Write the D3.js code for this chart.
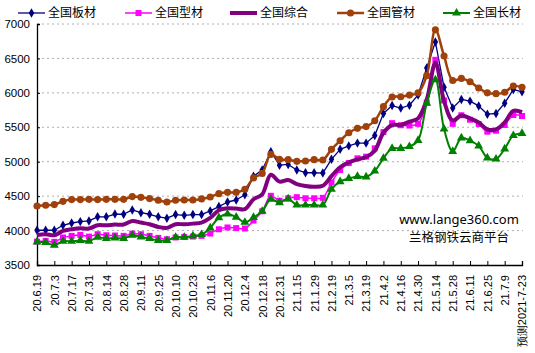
<!DOCTYPE html>
<html><head><meta charset="utf-8">
<script src="https://cdn.jsdelivr.net/npm/d3@7"></script>
<style>
html,body{margin:0;padding:0;background:#fff;}
svg{display:block;font-family:"Noto Sans","Noto Sans CJK SC",sans-serif;}
</style></head>
<body>
<svg id="chart" width="535" height="353"></svg>
<script>
const dateLabels = ["20.6.19","20.7.3","20.7.17","20.7.31","20.8.14","20.8.28","20.9.11","20.9.25","20.10.10","20.10.23","20.11.6","20.11.20","20.12.4","20.12.18","20.12.31","21.1.15","21.1.29","21.2.19","21.3.5","21.3.19","21.4.2","21.4.16","21.4.30","21.5.14","21.5.28","21.6.11","21.6.25","21.7.9","预测2021-7-23"];
const yTicks = [3500,4000,4500,5000,5500,6000,6500,7000];

const plate = [4005,4005,4005,4077,4110,4130,4140,4200,4200,4240,4237,4300,4260,4237,4200,4180,4232,4222,4232,4232,4285,4348,4415,4444,4520,4790,4880,5145,4950,4960,4880,4840,4840,4835,5035,5180,5230,5270,5270,5380,5700,5815,5780,5820,5970,6360,6740,6080,5780,5905,5880,5810,5690,5700,5850,6050,6016];
const section = [3840,3850,3836,3900,3923,3937,3913,3947,3932,3928,3923,3957,3947,3923,3894,3874,3900,3908,3913,3923,3957,4019,4045,4036,4030,4145,4280,4505,4434,4469,4485,4469,4469,4475,4700,4880,4980,5049,5073,5194,5430,5560,5530,5525,5550,5860,6480,5890,5550,5675,5610,5547,5436,5450,5533,5678,5664];
const composite = [3937,3947,3932,3995,4019,4034,4029,4077,4077,4087,4087,4140,4116,4092,4053,4039,4092,4092,4101,4116,4183,4295,4324,4320,4310,4454,4526,4810,4710,4734,4676,4647,4635,4650,4790,4920,4990,5034,5068,5160,5420,5533,5533,5581,5630,5900,6440,5880,5600,5670,5630,5570,5470,5470,5570,5740,5720];
const pipe = [4357,4367,4377,4425,4450,4450,4454,4450,4454,4454,4454,4493,4483,4464,4440,4415,4440,4444,4444,4460,4488,4536,4555,4555,4600,4765,4830,5106,5034,5030,5005,5010,5030,5025,5180,5305,5420,5485,5510,5595,5800,5940,5944,5968,6000,6250,6915,6535,6180,6210,6161,6070,6000,5988,6008,6099,6080];
const longp = [3836,3826,3787,3845,3845,3855,3845,3903,3884,3894,3884,3932,3908,3884,3855,3855,3903,3903,3923,3942,4039,4188,4240,4195,4120,4190,4280,4454,4405,4460,4371,4371,4371,4371,4600,4710,4758,4787,4780,4865,5050,5194,5194,5220,5310,5850,6190,5475,5150,5345,5305,5230,5055,5039,5187,5380,5410];

const seriesNames = ["全国板材","全国型材","全国综合","全国管材","全国长材"];
const seriesData = [plate, section, composite, pipe, longp];
const seriesColors = ["#000080","#FF00FF","#800080","#A0400A","#008000"];
const seriesWidths = [1.3,1.5,4,2.5,2];
const seriesMarkers = ["diamond","square",null,"circle","triangle"];
const seriesCurves = [d3.curveLinear, d3.curveCatmullRom, d3.curveCatmullRom, d3.curveCatmullRom, d3.curveCatmullRom];

const svg = d3.select("#chart");
const n = plate.length;
const x = d3.scaleLinear().domain([0, n-1]).range([37, 522]);
const y = d3.scaleLinear().domain([3500, 7000]).range([265, 24]);

// gridlines
svg.append("g").selectAll("line").data(yTicks.filter(t=>t>3500)).join("line")
  .attr("x1",37).attr("x2",523).attr("y1",d=>y(d)).attr("y2",d=>y(d))
  .attr("stroke","#b0b0b0").attr("stroke-width",1).attr("stroke-dasharray","2,3");

// y axis
const yAxis = d3.axisLeft(y).tickValues(yTicks).tickSize(-3).tickPadding(7).tickFormat(d3.format("d"));
const gy = svg.append("g").attr("transform","translate(37,0)").call(yAxis);
gy.select(".domain").attr("stroke","#000").attr("stroke-width",1.3);
gy.selectAll(".tick line").attr("stroke","#000");
gy.selectAll("text").attr("font-size",11.5).attr("fill","#000");

// x axis
const tickIdx = d3.range(0, n, 2);
const xAxis = d3.axisBottom(x).tickValues(tickIdx).tickSize(-4).tickFormat((d,i)=>dateLabels[i]);
const gx = svg.append("g").attr("transform","translate(0,265)").call(xAxis);
gx.select(".domain").attr("stroke","#000").attr("stroke-width",1.3);
gx.selectAll(".tick line").attr("stroke","#000");
gx.selectAll(".tick text")
  .attr("font-size",11).attr("fill","#000")
  .attr("text-anchor","end").attr("dy","0.35em")
  .attr("transform","translate(0,10) rotate(-90)")
  .attr("x",0).attr("y",0);

// series
const sym = {diamond:d3.symbolDiamond, square:d3.symbolSquare, circle:d3.symbolCircle, triangle:d3.symbolTriangle};
const symSize = {diamond:26, square:36, circle:40, triangle:34};
seriesData.forEach((data,k)=>{
  const line = d3.line().x((d,i)=>x(i)).y(d=>y(d)).curve(seriesCurves[k]);
  svg.append("path").datum(data).attr("d",line).attr("fill","none")
    .attr("stroke",seriesColors[k]).attr("stroke-width",seriesWidths[k]).attr("stroke-linejoin","round");
  if (seriesMarkers[k]) {
    svg.append("g").selectAll("path").data(data).join("path")
      .attr("d", d3.symbol().type(sym[seriesMarkers[k]]).size(symSize[seriesMarkers[k]]))
      .attr("transform",(d,i)=>`translate(${x(i)},${y(d)})`)
      .attr("fill",seriesColors[k]);
  }
});

// legend
const legendX = [18,125,230,337,443];
seriesNames.forEach((name,k)=>{
  const g = svg.append("g").attr("transform",`translate(${legendX[k]},13)`);
  g.append("line").attr("x1",0).attr("x2",27).attr("y1",0).attr("y2",0)
    .attr("stroke",seriesColors[k]).attr("stroke-width",seriesWidths[k]);
  if (seriesMarkers[k]) {
    g.append("path").attr("d", d3.symbol().type(sym[seriesMarkers[k]]).size(symSize[seriesMarkers[k]]))
      .attr("transform","translate(13.5,0)").attr("fill",seriesColors[k]);
  }
  g.append("text").attr("x",30).attr("y",0).attr("dy","0.35em")
    .attr("font-size",12).attr("fill","#000").text(name);
});

// watermark
svg.append("text").attr("x",459).attr("y",224).attr("text-anchor","middle")
  .attr("font-size",13).attr("fill","#000").text("www.lange360.com");
svg.append("text").attr("x",459).attr("y",242).attr("text-anchor","middle")
  .attr("font-size",12.5).attr("fill","#000").attr("font-family","Noto Sans CJK SC").text("兰格钢铁云商平台");
</script>
</body></html>
